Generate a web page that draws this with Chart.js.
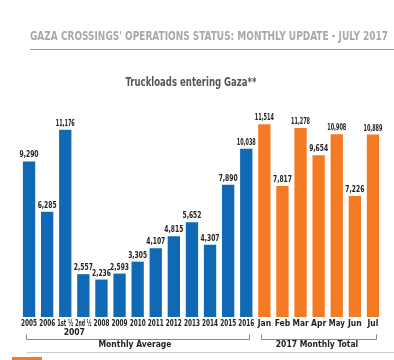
<!DOCTYPE html>
<html>
<head>
<meta charset="utf-8">
<script src="https://cdn.jsdelivr.net/npm/chart.js@4"></script>
<style>
  html, body { margin: 0; padding: 0; background: #fff; }
  #wrap { position: relative; width: 394px; height: 360px; }
</style>
</head>
<body>
<div id="wrap"><canvas id="myChart" width="394" height="360"></canvas></div>
<script>
var categories = ['2005', '2006', '1st \u00bd', '2nd \u00bd', '2008', '2009', '2010', '2011', '2012', '2013',
  '2014', '2015', '2016', 'Jan', 'Feb', 'Mar', 'Apr', 'May', 'Jun', 'Jul'];
var truckloads = [9290, 6285, 11176, 2557, 2236, 2593, 3305, 4107, 4815, 5652,
  4307, 7890, 10038, 11514, 7817, 11278, 9654, 10908, 7226, 10889];
var groupLabels = ['Monthly Average', '2017 Monthly Total'];
var subLabel = '2007';
var headerText = "GAZA CROSSINGS' OPERATIONS STATUS: MONTHLY UPDATE - JULY 2017";
var titleText = 'Truckloads entering Gaza**';

var blue = '#0f69b4';
var orange = '#f57a24';
var narrow = '"Liberation Sans Narrow", "DejaVu Sans Condensed", sans-serif';

var barColors = categories.map(function (c, i) { return i < 13 ? blue : orange; });

var decor = {
  id: 'decor',
  afterDatasetsDraw: function (chart) {
    var ctx = chart.ctx;
    var x = chart.scales.x;
    var meta = chart.getDatasetMeta(0);
    var bottom = chart.chartArea.bottom;
    ctx.save();

    // header
    ctx.fillStyle = '#a8a8a8';
    ctx.font = 'bold 12px ' + narrow;
    ctx.textAlign = 'left';
    ctx.textBaseline = 'middle';
    ctx.fillText(headerText, 30, 37, 358);
    ctx.strokeStyle = '#9a9a9a';
    ctx.lineWidth = 1;
    ctx.beginPath(); ctx.moveTo(30, 49.5); ctx.lineTo(394, 49.5); ctx.stroke();

    // title
    ctx.fillStyle = '#555555';
    ctx.font = 'bold 13px ' + narrow;
    ctx.textAlign = 'center';
    ctx.fillText(titleText, 191, 83, 131);

    // value labels
    ctx.fillStyle = '#222222';
    ctx.font = 'bold 8.5px ' + narrow;
    ctx.textBaseline = 'alphabetic';
    meta.data.forEach(function (bar, i) {
      ctx.fillText(truckloads[i].toLocaleString('en-US'), bar.x, bar.y - 4, 19);
    });

    // category labels
    ctx.font = 'bold 8.5px ' + narrow;
    ctx.textBaseline = 'middle';
    categories.forEach(function (c, i) {
      ctx.fillText(c, x.getPixelForValue(i), bottom + 7, 16);
    });
    ctx.fillText(subLabel, (x.getPixelForValue(2) + x.getPixelForValue(3)) / 2, bottom + 16);

    // brackets
    ctx.strokeStyle = '#888888';
    ctx.lineWidth = 1;
    var half = (x.getPixelForValue(1) - x.getPixelForValue(0)) / 2;
    var groups = [[0, 12], [13, 19]];
    groups.forEach(function (g, k) {
      var x0 = Math.round(x.getPixelForValue(g[0]) - half + 6) + 0.5;
      var x1 = Math.round(x.getPixelForValue(g[1]) + half - 6) + 0.5;
      var yb = bottom + 22.5;
      ctx.beginPath();
      ctx.moveTo(x0, yb - 5); ctx.lineTo(x0, yb); ctx.lineTo(x1, yb); ctx.lineTo(x1, yb - 5);
      ctx.stroke();
      ctx.fillStyle = '#222222';
      ctx.font = 'bold 8.5px ' + narrow;
      var cx = k === 0 ? 135 : 317;
      ctx.fillText(groupLabels[k], cx, bottom + 27.5);
    });

    // footer rule and tab
    ctx.strokeStyle = '#cccccc';
    ctx.beginPath(); ctx.moveTo(27, 352.5); ctx.lineTo(394, 352.5); ctx.stroke();
    ctx.fillStyle = orange;
    ctx.fillRect(12, 357, 30, 3);
    ctx.restore();
  }
};

new Chart('myChart', {
  type: 'bar',
  data: {
    labels: categories,
    datasets: [{
      data: truckloads,
      backgroundColor: barColors,
      barPercentage: 0.68,
      categoryPercentage: 1.0
    }]
  },
  options: {
    responsive: false,
    animation: false,
    layout: {
      padding: { left: 20, right: 12, top: 116, bottom: 43 }
    },
    plugins: {
      legend: { display: false },
      title: { display: false },
      tooltip: { enabled: false }
    },
    scales: {
      x: { display: false },
      y: { display: false, min: 0, max: 12000 }
    }
  },
  plugins: [decor]
});
</script>
</body>
</html>
